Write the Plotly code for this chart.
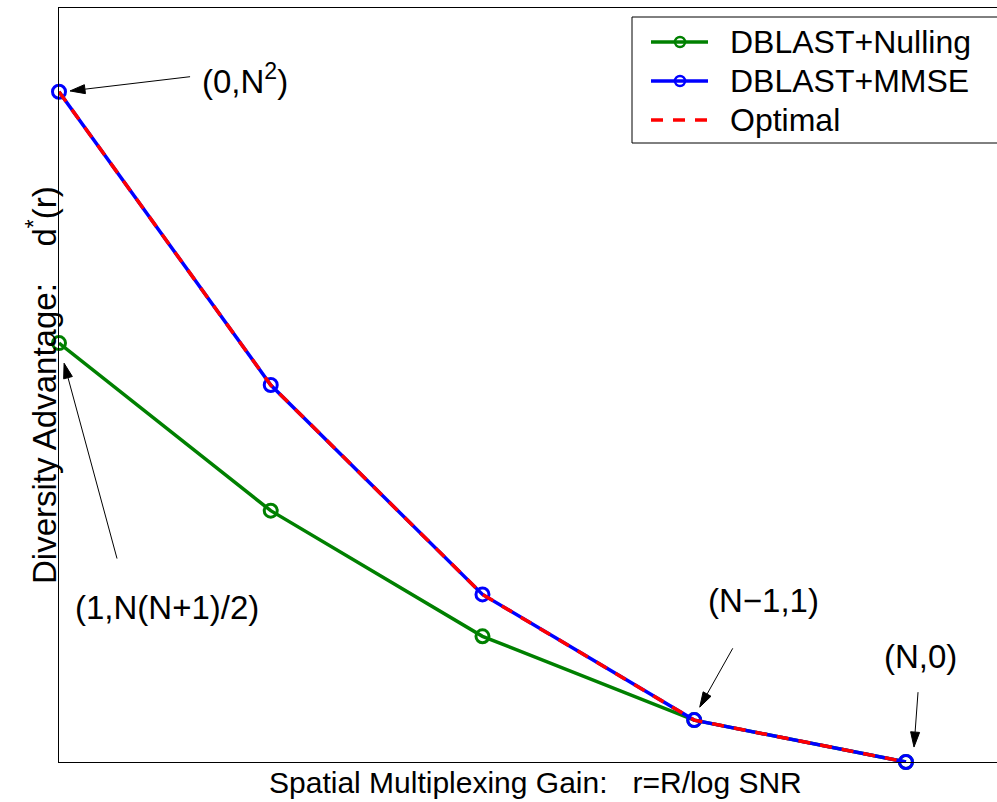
import math
import plotly.graph_objects as go

# Diversity-multiplexing tradeoff curves (N = 4 antennas)
r = [0, 1, 2, 3, 4]
d_nulling = [10, 6, 3, 1, 0]
d_mmse = [16, 9, 4, 1, 0]
d_optimal = [16, 9, 4, 1, 0]

series_names = ["DBLAST+Nulling", "DBLAST+MMSE", "Optimal"]
series_colors = ["#008000", "#0000ff", "#ff0000"]

FONT = "Arial, 'Liberation Sans', Helvetica, sans-serif"
NB = "\u00a0"
DASH = "12px,10px"

W, H = 997, 802
ML, MR, MT, MB = 59, 0, 8, 40
PW, PH = W - ML - MR, H - MT - MB
X_RANGE = [0, 4.43]
Y_RANGE = [0, 18]
SX = PW / (X_RANGE[1] - X_RANGE[0])   # pixels per x unit
SY = PH / (Y_RANGE[1] - Y_RANGE[0])   # pixels per y unit


def px_x(p):
    return (p - ML) / PW


def px_y(p):
    return (H - MB - p) / PH


fig = go.Figure()

fig.add_trace(go.Scatter(
    x=r, y=d_nulling, mode="lines+markers", name=series_names[0], showlegend=False,
    line=dict(color=series_colors[0], width=3.5),
    marker=dict(symbol="circle-open", size=13, color=series_colors[0],
                line=dict(width=3, color=series_colors[0])),
    cliponaxis=False,
))
fig.add_trace(go.Scatter(
    x=r, y=d_mmse, mode="lines+markers", name=series_names[1], showlegend=False,
    line=dict(color=series_colors[1], width=3.5),
    marker=dict(symbol="circle-open", size=13, color=series_colors[1],
                line=dict(width=3, color=series_colors[1])),
    cliponaxis=False,
))
fig.add_trace(go.Scatter(
    x=r, y=d_optimal, mode="lines", name=series_names[2], showlegend=False,
    line=dict(color=series_colors[2], width=3.5, dash=DASH),
    cliponaxis=False,
))

# Corner-point arrows: thin shaft plus filled triangular head
arrows = [
    # (tip x, tip y, tail x, tail y)
    (r[0] + 0.052, d_mmse[0] + 0.02, 0.619, 16.36),
    (r[0] + 0.024, d_nulling[0] - 0.48, 0.274, 4.857),
    (r[3] + 0.026, d_mmse[3] + 0.31, 3.182, 2.714),
    (r[4] + 0.038, d_mmse[4] + 0.357, 4.057, 1.667),
]
HEAD_LEN, HEAD_HALF = 15, 4.5
shapes = []
for tx, ty, ax, ay in arrows:
    dxp, dyp = (tx - ax) * SX, (ty - ay) * SY
    n = math.hypot(dxp, dyp)
    ux, uy = dxp / n, dyp / n
    px, py = -uy, ux
    bx, by = tx - HEAD_LEN * ux / SX, ty - HEAD_LEN * uy / SY
    v1 = (bx + HEAD_HALF * px / SX, by + HEAD_HALF * py / SY)
    v2 = (bx - HEAD_HALF * px / SX, by - HEAD_HALF * py / SY)
    shapes.append(dict(type="line", xref="x", yref="y", x0=ax, y0=ay, x1=bx, y1=by,
                       line=dict(color="black", width=1)))
    shapes.append(dict(type="path", xref="x", yref="y",
                       path=f"M {tx},{ty} L {v1[0]},{v1[1]} L {v2[0]},{v2[1]} Z",
                       fillcolor="black", line=dict(color="black", width=1)))

annotations = []

# Legend: framed box with line/marker keys and labels
shapes.append(dict(
    type="rect", xref="paper", yref="paper", layer="above",
    x0=px_x(632), x1=1.02, y0=px_y(143), y1=px_y(17),
    fillcolor="white", line=dict(color="black", width=1),
))
row_y = [42, 81, 120]
has_marker = [True, True, False]
for name, color, ry, mk in zip(series_names, series_colors, row_y, has_marker):
    shapes.append(dict(
        type="line", xref="paper", yref="paper", layer="above",
        x0=px_x(651), x1=px_x(708), y0=px_y(ry), y1=px_y(ry),
        line=dict(color=color, width=3.5, dash="solid" if mk else DASH),
    ))
    if mk:
        shapes.append(dict(
            type="circle", xref="paper", yref="paper", layer="above",
            xsizemode="pixel", ysizemode="pixel",
            xanchor=px_x(680), yanchor=px_y(ry), x0=-5, x1=5, y0=-5, y1=5,
            fillcolor="rgba(0,0,0,0)", line=dict(color=color, width=2.5),
        ))
    annotations.append(dict(
        x=px_x(728), y=px_y(ry), xref="paper", yref="paper", text=name,
        showarrow=False, xanchor="left", yanchor="middle",
        font=dict(family=FONT, size=32, color="black"),
    ))

labels = [
    ("(0,N<sup>2</sup>)", 0.667, 16.31, "left"),
    ("(1,N(N+1)/2)", 0.511, 3.69, "center"),
    ("(N\u22121,1)", 3.329, 3.857, "center"),
    ("(N,0)", 4.071, 2.524, "center"),
]
for txt, x, y, xa in labels:
    annotations.append(dict(
        x=x, y=y, xref="x", yref="y", text=txt, showarrow=False,
        xanchor=xa, yanchor="middle", font=dict(family=FONT, size=33, color="black"),
    ))

# Axis titles
annotations.append(dict(
    x=px_x(535), y=px_y(783), xref="paper", yref="paper",
    text="Spatial Multiplexing Gain:" + NB * 3 + "r=R/log SNR",
    showarrow=False, xanchor="center", yanchor="middle",
    font=dict(family=FONT, size=30, color="black"),
))
annotations.append(dict(
    x=px_x(42), y=0.5, xref="paper", yref="paper",
    text="Diversity Advantage:" + NB * 4 + "d<sup>*</sup>(r)",
    showarrow=False, xanchor="center", yanchor="middle", textangle=-90,
    font=dict(family=FONT, size=33, color="black"),
))

fig.update_layout(
    width=W, height=H, autosize=False,
    margin=dict(l=ML, r=MR, t=MT, b=MB),
    plot_bgcolor="white", paper_bgcolor="white",
    font=dict(family=FONT, size=30, color="black"),
    showlegend=False,
    shapes=shapes,
    annotations=annotations,
)
fig.update_xaxes(
    range=X_RANGE, showticklabels=False, ticks="", showgrid=False, zeroline=False,
    showline=True, linecolor="black", linewidth=1, mirror=True,
)
fig.update_yaxes(
    range=Y_RANGE, showticklabels=False, ticks="", showgrid=False, zeroline=False,
    showline=True, linecolor="black", linewidth=1, mirror=False,
)

fig.write_html("out.html")
